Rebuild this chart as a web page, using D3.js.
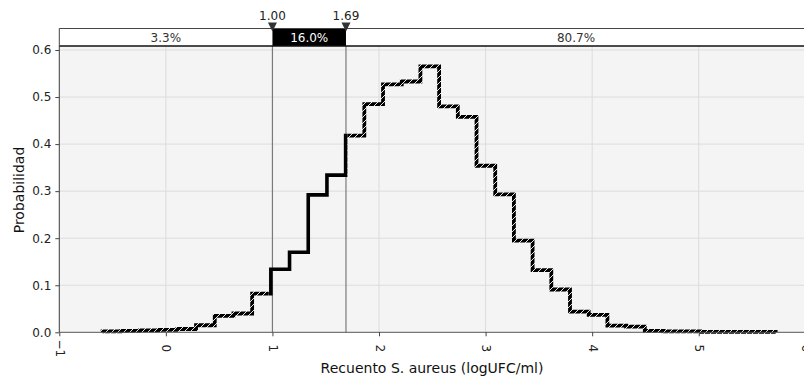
<!DOCTYPE html>
<html>
<head>
<meta charset="utf-8">
<script src="https://cdn.jsdelivr.net/npm/d3@7"></script>
<style>
  body { margin: 0; background: #fff; }
  svg { display: block; font-family: "DejaVu Sans", sans-serif; }
</style>
</head>
<body>
<svg id="chart" width="804" height="378"></svg>
<script>
// histogram
const binStart = -0.594;
const binEnd = 5.722;
const probs = [0.002, 0.003, 0.004, 0.005, 0.007, 0.015, 0.035, 0.040, 0.082,
  0.134, 0.170, 0.292, 0.334, 0.418, 0.485, 0.527, 0.533, 0.565, 0.480,
  0.458, 0.354, 0.293, 0.195, 0.132, 0.091, 0.044, 0.037, 0.014, 0.012,
  0.003, 0.002, 0.002, 0.001, 0.001, 0.001, 0.001];

const cuts = [1.00, 1.69];
const cutLabels = ["1.00", "1.69"];
const shares = ["3.3%", "16.0%", "80.7%"];
const xTicks = [-1, 0, 1, 2, 3, 4, 5, 6];
const yTicks = [0, 0.1, 0.2, 0.3, 0.4, 0.5, 0.6];

const svg = d3.select("#chart");
const W = 804;
const barTop = 28.5, barBot = 46;

const x = d3.scaleLinear().domain([-1, 6]).range([59.3, 805.3]);
const y = d3.scaleLinear().domain([0, 0.6]).range([332.3, 50]);

const binW = (binEnd - binStart) / probs.length;
const edges = probs.map((d, i) => binStart + i * binW);

// hatch pattern for the outline
const defs = svg.append("defs");
const pat = defs.append("pattern")
    .attr("id", "hatch")
    .attr("patternUnits", "userSpaceOnUse")
    .attr("width", 6).attr("height", 6);
pat.append("rect").attr("width", 6).attr("height", 6).attr("fill", "#000");
pat.append("path")
    .attr("d", "M0,6 L6,0 M-1,1 L1,-1 M5,7 L7,5")
    .attr("stroke", "#fff").attr("stroke-width", 0.9);

const x0 = x(edges[9]) - 2.5, x1 = x(cuts[1]) + 1.5;
defs.append("clipPath").attr("id", "inside")
  .append("rect").attr("x", x0).attr("y", 0).attr("width", x1 - x0).attr("height", 378);
defs.append("clipPath").attr("id", "outside")
  .append("path")
    .attr("d", `M0,0H${x0}V378H0Z M${x1},0H${W + 10}V378H${x1}Z`);

// plot background
svg.append("rect")
    .attr("x", x(-1)).attr("y", barBot)
    .attr("width", W - x(-1) + 2).attr("height", y(0) - barBot)
    .attr("fill", "#f4f4f4");

// grid
svg.append("g").selectAll("line")
  .data(xTicks)
  .join("line")
    .attr("x1", d => x(d)).attr("x2", d => x(d))
    .attr("y1", barBot).attr("y2", y(0))
    .attr("stroke", "#dcdcdc");
svg.append("g").selectAll("line")
  .data(yTicks.slice(1))
  .join("line")
    .attr("x1", x(-1)).attr("x2", W + 2)
    .attr("y1", d => y(d)).attr("y2", d => y(d))
    .attr("stroke", "#dcdcdc");

// cut lines
svg.append("g").selectAll("line")
  .data(cuts)
  .join("line")
    .attr("x1", d => x(d)).attr("x2", d => x(d))
    .attr("y1", barBot).attr("y2", y(0))
    .attr("stroke", "#7a7a7a").attr("stroke-width", 1.2);

// step outline
const pts = [[binStart, 0]].concat(probs.map((p, i) => [edges[i], p]), [[binEnd, 0]]);
const step = d3.line()
    .x(d => x(d[0])).y(d => y(d[1]))
    .curve(d3.curveStepAfter);

svg.append("path")
    .attr("d", step(pts))
    .attr("fill", "none")
    .attr("stroke", "url(#hatch)")
    .attr("stroke-width", 3.8)
    .attr("stroke-linejoin", "miter")
    .attr("clip-path", "url(#outside)");
svg.append("path")
    .attr("d", step(pts))
    .attr("fill", "none")
    .attr("stroke", "#000")
    .attr("stroke-width", 3.6)
    .attr("stroke-linejoin", "miter")
    .attr("clip-path", "url(#inside)");

// axes
const yAxis = svg.append("g")
    .attr("transform", `translate(${x(-1)},0)`)
    .call(d3.axisLeft(y).tickValues(yTicks).tickFormat(d3.format(".1f")).tickSize(4).tickPadding(4));
yAxis.select(".domain").attr("d", `M0,${barBot}V${y(0)}`).attr("stroke", "#444");
yAxis.selectAll(".tick line").attr("stroke", "#444");
yAxis.selectAll(".tick text")
    .attr("font-family", "DejaVu Sans").attr("font-size", 12).attr("fill", "#222");

const xAxis = svg.append("g")
    .attr("transform", `translate(0,${y(0)})`)
    .call(d3.axisBottom(x).tickValues(xTicks).tickFormat(d3.format("d")).tickSize(4));
xAxis.select(".domain").attr("d", `M${x(-1)},0H${W + 2}`).attr("stroke", "#555");
xAxis.selectAll(".tick line").attr("stroke", "#444");
xAxis.selectAll(".tick text")
    .attr("font-family", "DejaVu Sans").attr("font-size", 12).attr("fill", "#222")
    .attr("y", 0).attr("dy", null)
    .attr("text-anchor", "middle")
    .attr("transform", "translate(0,16) rotate(90)")
    .attr("dominant-baseline", "central");

// share bar on top
const bounds = [x(-1), x(cuts[0]), x(cuts[1]), W + 2];
svg.append("rect")
    .attr("x", bounds[0]).attr("y", barTop)
    .attr("width", bounds[3] - bounds[0]).attr("height", barBot - barTop)
    .attr("fill", "#fff");
svg.append("rect")
    .attr("x", bounds[1]).attr("y", barTop)
    .attr("width", bounds[2] - bounds[1]).attr("height", barBot - barTop)
    .attr("fill", "#000");
svg.append("line")
    .attr("x1", bounds[0]).attr("x2", W + 2).attr("y1", barTop).attr("y2", barTop)
    .attr("stroke", "#444");
svg.append("line")
    .attr("x1", bounds[0]).attr("x2", W + 2).attr("y1", barBot).attr("y2", barBot)
    .attr("stroke", "#111").attr("stroke-width", 1.5);
svg.append("line")
    .attr("x1", bounds[0]).attr("x2", bounds[0]).attr("y1", barTop).attr("y2", barBot)
    .attr("stroke", "#444");

svg.append("g").selectAll("text")
  .data(shares)
  .join("text")
    .attr("x", (d, i) => (bounds[i] + bounds[i + 1]) / 2)
    .attr("y", (barTop + barBot) / 2 + 4.5)
    .attr("text-anchor", "middle")
    .attr("font-size", 12)
    .attr("fill", (d, i) => i === 1 ? "#fff" : "#333")
    .text(d => d);

// cut markers
svg.append("g").selectAll("path")
  .data(cuts)
  .join("path")
    .attr("d", d => `M${x(d) - 4.5},22.5H${x(d) + 4.5}L${x(d)},31.5Z`)
    .attr("fill", "#333");
svg.append("g").selectAll("text")
  .data(cuts)
  .join("text")
    .attr("x", d => x(d))
    .attr("y", 20)
    .attr("text-anchor", "middle")
    .attr("font-size", 12)
    .attr("fill", "#222")
    .text((d, i) => cutLabels[i]);

// titles
svg.append("text")
    .attr("x", 432).attr("y", 373)
    .attr("text-anchor", "middle")
    .attr("font-size", 14)
    .attr("fill", "#111")
    .text("Recuento S. aureus (logUFC/ml)");
svg.append("text")
    .attr("transform", "translate(24,190) rotate(-90)")
    .attr("text-anchor", "middle")
    .attr("font-size", 14)
    .attr("fill", "#111")
    .text("Probabilidad");
</script>
</body>
</html>
